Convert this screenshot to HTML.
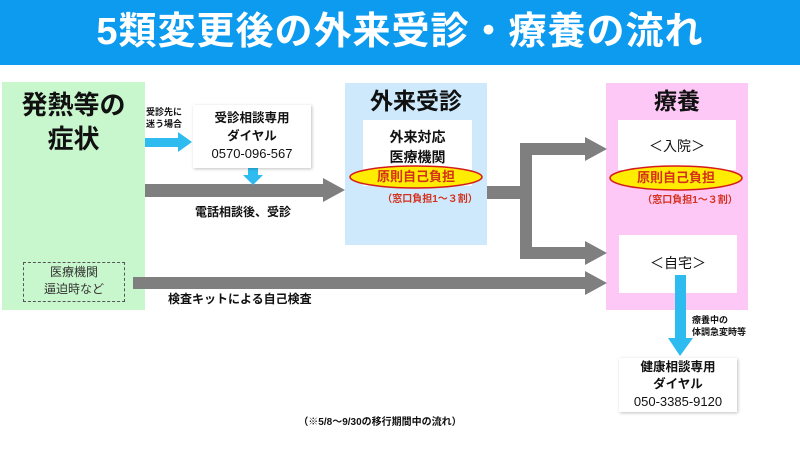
<!DOCTYPE html>
<html><head><meta charset="utf-8"><style>
*{margin:0;padding:0;box-sizing:border-box}
body{width:800px;height:450px;background:#fff;position:relative;overflow:hidden;font-family:"Liberation Sans","Noto Sans CJK JP",sans-serif;color:#111}
.a{position:absolute}
.t{position:absolute;white-space:nowrap;text-align:center;font-weight:bold}
.box{position:absolute;background:#fff;box-shadow:1px 1px 3px rgba(0,0,0,.25)}
</style></head><body>
<div class="a" style="left:0;top:0;width:800px;height:65px;background:#0d9bef"></div>
<div class="t" style="left:0;top:9px;width:800px;font-size:38px;color:#fff;line-height:46px;letter-spacing:1px">5類変更後の外来受診・療養の流れ</div>

<div class="a" style="left:2px;top:82px;width:143px;height:228px;background:#c8f6cd"></div>
<div class="t" style="left:2px;top:88px;width:143px;font-size:26px;line-height:34px">発熱等の<br>症状</div>
<div class="a" style="left:23px;top:262px;width:102px;height:40px;border:1px dashed #555"></div>
<div class="t" style="left:23px;top:264px;width:102px;font-size:12px;line-height:17px;font-weight:normal;color:#333">医療機関<br>逼迫時など</div>

<div class="a" style="left:345px;top:83px;width:142px;height:162px;background:#cde9fb"></div>
<div class="t" style="left:345px;top:86px;width:142px;font-size:23px;line-height:30px">外来受診</div>
<div class="box" style="left:363px;top:120px;width:109px;height:66px;box-shadow:none"></div>
<div class="t" style="left:363px;top:127px;width:109px;font-size:14px;line-height:20px">外来対応<br>医療機関</div>

<div class="a" style="left:606px;top:83px;width:142px;height:227px;background:#fdc8f6"></div>
<div class="t" style="left:606px;top:86px;width:142px;font-size:23px;line-height:30px">療養</div>
<div class="box" style="left:618px;top:120px;width:118px;height:50px;box-shadow:none"></div>
<div class="t" style="left:618px;top:136px;width:118px;font-size:14px;line-height:20px;font-weight:normal">＜入院＞</div>
<div class="box" style="left:619px;top:235px;width:118px;height:58px;box-shadow:none"></div>
<div class="t" style="left:619px;top:253px;width:118px;font-size:14px;line-height:20px;font-weight:normal">＜自宅＞</div>

<svg class="a" style="left:0;top:0" width="800" height="450">
<g fill="#7f7f7f">
<rect x="145" y="184" width="180" height="13"/><polygon points="323,178 345,190 323,202"/>
<rect x="487" y="186" width="45" height="13"/>
<rect x="520" y="143" width="12" height="116"/>
<rect x="520" y="143" width="66" height="12"/><polygon points="585,137 607,149 585,161"/>
<rect x="520" y="247" width="66" height="12"/><polygon points="585,241 607,253 585,265"/>
<rect x="133" y="277" width="455" height="12"/><polygon points="585,271 607,283 585,295"/>
</g>
<g fill="#2ebcf0">
<rect x="145" y="138" width="35" height="9"/><polygon points="178,132 192,142 178,152"/>
<rect x="248" y="168" width="10" height="8"/><polygon points="243,175 263,175 253,185"/>
<rect x="675" y="275" width="11" height="65"/><polygon points="668,338 693,338 680,356"/>
</g>
<ellipse cx="416" cy="177" rx="66" ry="11" fill="#ffec00" stroke="#d41c1c" stroke-width="1.5"/>
<ellipse cx="676" cy="178" rx="66" ry="12" fill="#ffec00" stroke="#d41c1c" stroke-width="1.5"/>
</svg>
<div class="t" style="left:350px;top:169px;width:132px;font-size:13px;line-height:16px;color:#d4301c">原則自己負担</div>
<div class="t" style="left:370px;top:193px;width:120px;font-size:10px;line-height:14px;color:#d4301c">（窓口負担1～３割）</div>
<div class="t" style="left:610px;top:170px;width:132px;font-size:13px;line-height:16px;color:#d4301c">原則自己負担</div>
<div class="t" style="left:630px;top:194px;width:120px;font-size:10px;line-height:14px;color:#d4301c">（窓口負担1～３割）</div>

<div class="t" style="left:146px;top:106px;font-size:9px;line-height:12px;text-align:left">受診先に<br>迷う場合</div>
<div class="box" style="left:193px;top:105px;width:118px;height:63px"></div>
<div class="t" style="left:193px;top:109px;width:118px;font-size:12.5px;line-height:18px">受診相談専用<br>ダイヤル<br><span style="font-weight:normal;font-size:13px">0570-096-567</span></div>
<div class="t" style="left:195px;top:204px;font-size:12px;line-height:16px">電話相談後、受診</div>
<div class="t" style="left:168px;top:291px;font-size:12px;line-height:16px">検査キットによる自己検査</div>
<div class="t" style="left:692px;top:314px;font-size:9px;line-height:12px;text-align:left">療養中の<br>体調急変時等</div>
<div class="box" style="left:619px;top:358px;width:118px;height:54px"></div>
<div class="t" style="left:619px;top:359px;width:118px;font-size:12.5px;line-height:17px">健康相談専用<br>ダイヤル<br><span style="font-weight:normal;font-size:13px">050-3385-9120</span></div>
<div class="t" style="left:280px;top:416px;width:200px;font-size:10px;line-height:14px">（※5/8～9/30の移行期間中の流れ）</div>
</body></html>
